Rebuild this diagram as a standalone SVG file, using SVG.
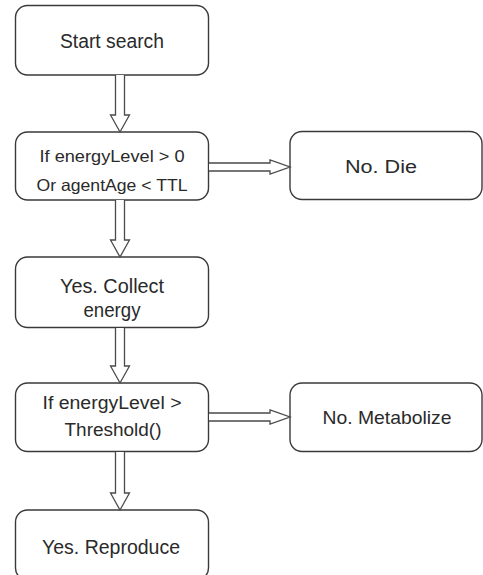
<svg xmlns="http://www.w3.org/2000/svg" width="483" height="575" viewBox="0 0 483 575">
<style>
.box{fill:#fff;stroke:#3a3a3a;stroke-width:1.4}
.arr{fill:#fff;stroke:#4a4a4a;stroke-width:1.3;stroke-linejoin:miter}
text{font-family:"Liberation Sans",Arial,sans-serif;fill:#2a2a2a;text-anchor:middle}
</style>
<rect width="483" height="575" fill="#fff"/>
<g id="start">
<rect class="box" x="15.5" y="5.5" width="193" height="69.5" rx="12"/>
<text x="112" y="48" font-size="19.5" textLength="104" lengthAdjust="spacingAndGlyphs">Start search</text>
</g>
<g id="check-energy">
<rect class="box" x="15.5" y="132" width="193" height="68" rx="12"/>
<text x="112" y="162" font-size="16.5" textLength="145" lengthAdjust="spacingAndGlyphs">If energyLevel &gt; 0</text>
<text x="112" y="191" font-size="16.5" textLength="151" lengthAdjust="spacingAndGlyphs">Or agentAge &lt; TTL</text>
</g>
<g id="die">
<rect class="box" x="290" y="131.5" width="192" height="68" rx="12"/>
<text x="381" y="173" font-size="18" textLength="72" lengthAdjust="spacingAndGlyphs">No. Die</text>
</g>
<g id="collect">
<rect class="box" x="15.5" y="257" width="193" height="70.5" rx="12"/>
<text x="112" y="293" font-size="19.5" textLength="104" lengthAdjust="spacingAndGlyphs">Yes. Collect</text>
<text x="112" y="317" font-size="19.5" textLength="57" lengthAdjust="spacingAndGlyphs">energy</text>
</g>
<g id="check-threshold">
<rect class="box" x="15.5" y="383" width="193" height="68.5" rx="12"/>
<text x="112" y="409" font-size="18" textLength="139" lengthAdjust="spacingAndGlyphs">If energyLevel &gt;</text>
<text x="113" y="436" font-size="18" textLength="97" lengthAdjust="spacingAndGlyphs">Threshold()</text>
</g>
<g id="metabolize">
<rect class="box" x="290" y="383" width="192" height="68.5" rx="12"/>
<text x="387" y="424" font-size="19" textLength="129" lengthAdjust="spacingAndGlyphs">No. Metabolize</text>
</g>
<g id="reproduce">
<rect class="box" x="15.5" y="510" width="193" height="70" rx="12"/>
<text x="111" y="554" font-size="19.5" textLength="138" lengthAdjust="spacingAndGlyphs">Yes. Reproduce</text>
</g>
<g id="connectors">
<path class="arr" d="M115.5,75 V115 H110.5 L120,132 L129.5,115 H124.5 V75"/>
<path class="arr" d="M115.5,200 V240 H110.5 L120,257 L129.5,240 H124.5 V200"/>
<path class="arr" d="M115.5,328 V366 H110.5 L120,383 L129.5,366 H124.5 V328"/>
<path class="arr" d="M115.5,452 V493 H110.5 L120,510 L129.5,493 H124.5 V452"/>
<path class="arr" d="M209,163 H270 V160 L290,167 L270,174 V171 H209"/>
<path class="arr" d="M209,413 H270 V410 L290,417 L270,424 V421 H209"/>
</g>
</svg>
